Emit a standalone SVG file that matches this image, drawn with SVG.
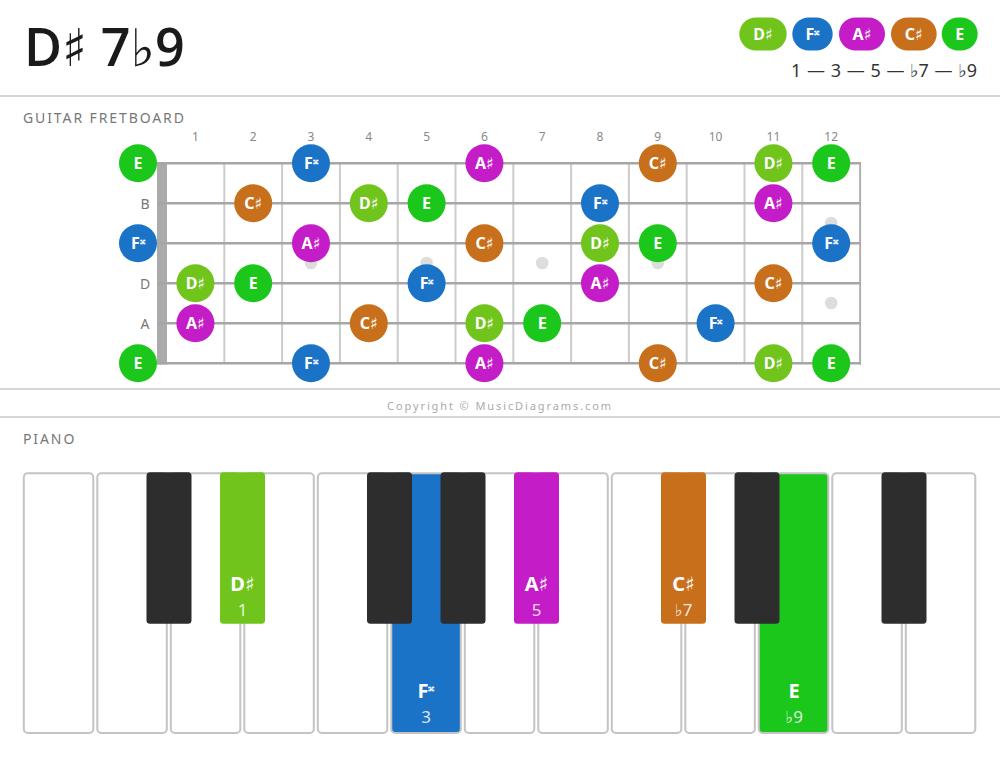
<svg xmlns="http://www.w3.org/2000/svg" width="1000" height="759" viewBox="0 0 1000 759">
<style>
text{font-family:"Noto Sans","DejaVu Sans",sans-serif}
.title{font-family:"Open Sans","Noto Sans","DejaVu Sans",sans-serif;font-size:52px;font-weight:600;fill:#1a1a1a}
.sec{font-size:14px;letter-spacing:1.9px;fill:#777}
.fn{font-size:12px;fill:#888;text-anchor:middle}
.sl{font-size:14px;fill:#777;text-anchor:middle}
.nl{font-size:16px;font-weight:700;fill:#fff;text-anchor:middle}
.sup{font-size:12px}
.div{stroke:#d6d6d6;stroke-width:2}
.str{stroke:#a6a6a6;stroke-width:2.5}
.fret{stroke:#cccccc;stroke-width:2}
.dot{fill:#dddddd}
.wk{fill:#fff;stroke:#c4c4c4;stroke-width:2}
.bk{fill:#2d2d2d}
.pn{font-size:20px;font-weight:700;fill:#fff;text-anchor:middle}
.pi{font-size:17px;fill:#fff;fill-opacity:0.85;text-anchor:middle}
.c1{fill:#70c41c}
.c3{fill:#1b73c8}
.c5{fill:#c41cc6}
.c7{fill:#c86f1b}
.c9{fill:#1cc71c}
</style>
<rect width="1000" height="759" fill="#fff"/>
<g id="header">
<text class="title" x="24" y="66">D♯ 7♭9</text>
<g id="legend">
<rect class="c1" x="739.3" y="17.5" width="47.4" height="33" rx="16.5"/>
<text class="nl" x="763" y="40">D♯</text>
<rect class="c3" x="792.3" y="17.5" width="40.4" height="33" rx="16.5"/>
<text class="nl" x="812.5" y="40">F<tspan class="sup" dy="-5">𝄪</tspan></text>
<rect class="c5" x="839" y="17.5" width="46" height="33" rx="16.5"/>
<text class="nl" x="862" y="40">A♯</text>
<rect class="c7" x="891" y="17.5" width="45.7" height="33" rx="16.5"/>
<text class="nl" x="913.8" y="40">C♯</text>
<rect class="c9" x="941.7" y="17.5" width="36" height="33" rx="16.5"/>
<text class="nl" x="959.7" y="40">E</text>
<text x="977" y="77" font-size="18" word-spacing="1" fill="#333" text-anchor="end">1 — 3 — 5 — ♭7 — ♭9</text>
</g>
</g>
<line class="div" x1="0" y1="96" x2="1000" y2="96"/>
<text class="sec" x="23" y="123">GUITAR FRETBOARD</text>
<g id="fret-numbers">
<text class="fn" x="195.4" y="141">1</text>
<text class="fn" x="253.2" y="141">2</text>
<text class="fn" x="311" y="141">3</text>
<text class="fn" x="368.8" y="141">4</text>
<text class="fn" x="426.6" y="141">5</text>
<text class="fn" x="484.4" y="141">6</text>
<text class="fn" x="542.2" y="141">7</text>
<text class="fn" x="600" y="141">8</text>
<text class="fn" x="657.8" y="141">9</text>
<text class="fn" x="715.6" y="141">10</text>
<text class="fn" x="773.4" y="141">11</text>
<text class="fn" x="831.2" y="141">12</text>
</g>
<g id="fretboard">
<line class="fret" x1="224.3" y1="163" x2="224.3" y2="363"/>
<line class="fret" x1="282.1" y1="163" x2="282.1" y2="363"/>
<line class="fret" x1="339.9" y1="163" x2="339.9" y2="363"/>
<line class="fret" x1="397.7" y1="163" x2="397.7" y2="363"/>
<line class="fret" x1="455.5" y1="163" x2="455.5" y2="363"/>
<line class="fret" x1="513.3" y1="163" x2="513.3" y2="363"/>
<line class="fret" x1="571.1" y1="163" x2="571.1" y2="363"/>
<line class="fret" x1="628.9" y1="163" x2="628.9" y2="363"/>
<line class="fret" x1="686.7" y1="163" x2="686.7" y2="363"/>
<line class="fret" x1="744.5" y1="163" x2="744.5" y2="363"/>
<line class="fret" x1="802.3" y1="163" x2="802.3" y2="363"/>
<line x1="860.1" y1="162" x2="860.1" y2="364.5" stroke="#b0b0b0" stroke-width="2"/>
<rect x="157" y="162" width="10" height="202.5" fill="#aaaaaa"/>
<line class="str" x1="157" y1="163.3" x2="861" y2="163.3"/>
<line class="str" x1="157" y1="203.3" x2="861" y2="203.3"/>
<line class="str" x1="157" y1="243.3" x2="861" y2="243.3"/>
<line class="str" x1="157" y1="283.3" x2="861" y2="283.3"/>
<line class="str" x1="157" y1="323.3" x2="861" y2="323.3"/>
<line class="str" x1="157" y1="363.3" x2="861" y2="363.3"/>
<circle class="dot" cx="311" cy="263" r="6.3"/>
<circle class="dot" cx="426.6" cy="263" r="6.3"/>
<circle class="dot" cx="542.2" cy="263" r="6.3"/>
<circle class="dot" cx="657.8" cy="263" r="6.3"/>
<circle class="dot" cx="831.2" cy="223" r="6.3"/>
<circle class="dot" cx="831.2" cy="303" r="6.3"/>
<text class="sl" x="145" y="208.5">B</text>
<text class="sl" x="145" y="288.5">D</text>
<text class="sl" x="145" y="328.5">A</text>
</g>
<g id="fret-notes">
<g id="s1-0"><circle class="c9" cx="138" cy="163.3" r="19"/><text class="nl" x="138" y="169">E</text></g>
<g id="s1-3"><circle class="c3" cx="311" cy="163.3" r="19"/><text class="nl" x="311" y="169">F<tspan class="sup" dy="-5">𝄪</tspan></text></g>
<g id="s1-6"><circle class="c5" cx="484.4" cy="163.3" r="19"/><text class="nl" x="484.4" y="169">A♯</text></g>
<g id="s1-9"><circle class="c7" cx="657.8" cy="163.3" r="19"/><text class="nl" x="657.8" y="169">C♯</text></g>
<g id="s1-11"><circle class="c1" cx="773.4" cy="163.3" r="19"/><text class="nl" x="773.4" y="169">D♯</text></g>
<g id="s1-12"><circle class="c9" cx="831.2" cy="163.3" r="19"/><text class="nl" x="831.2" y="169">E</text></g>

<g id="s2-2"><circle class="c7" cx="253.2" cy="203.3" r="19"/><text class="nl" x="253.2" y="209">C♯</text></g>
<g id="s2-4"><circle class="c1" cx="368.8" cy="203.3" r="19"/><text class="nl" x="368.8" y="209">D♯</text></g>
<g id="s2-5"><circle class="c9" cx="426.6" cy="203.3" r="19"/><text class="nl" x="426.6" y="209">E</text></g>
<g id="s2-8"><circle class="c3" cx="600" cy="203.3" r="19"/><text class="nl" x="600" y="209">F<tspan class="sup" dy="-5">𝄪</tspan></text></g>
<g id="s2-11"><circle class="c5" cx="773.4" cy="203.3" r="19"/><text class="nl" x="773.4" y="209">A♯</text></g>

<g id="s3-0"><circle class="c3" cx="138" cy="243.3" r="19"/><text class="nl" x="138" y="249">F<tspan class="sup" dy="-5">𝄪</tspan></text></g>
<g id="s3-3"><circle class="c5" cx="311" cy="243.3" r="19"/><text class="nl" x="311" y="249">A♯</text></g>
<g id="s3-6"><circle class="c7" cx="484.4" cy="243.3" r="19"/><text class="nl" x="484.4" y="249">C♯</text></g>
<g id="s3-8"><circle class="c1" cx="600" cy="243.3" r="19"/><text class="nl" x="600" y="249">D♯</text></g>
<g id="s3-9"><circle class="c9" cx="657.8" cy="243.3" r="19"/><text class="nl" x="657.8" y="249">E</text></g>
<g id="s3-12"><circle class="c3" cx="831.2" cy="243.3" r="19"/><text class="nl" x="831.2" y="249">F<tspan class="sup" dy="-5">𝄪</tspan></text></g>

<g id="s4-1"><circle class="c1" cx="195.4" cy="283.3" r="19"/><text class="nl" x="195.4" y="289">D♯</text></g>
<g id="s4-2"><circle class="c9" cx="253.2" cy="283.3" r="19"/><text class="nl" x="253.2" y="289">E</text></g>
<g id="s4-5"><circle class="c3" cx="426.6" cy="283.3" r="19"/><text class="nl" x="426.6" y="289">F<tspan class="sup" dy="-5">𝄪</tspan></text></g>
<g id="s4-8"><circle class="c5" cx="600" cy="283.3" r="19"/><text class="nl" x="600" y="289">A♯</text></g>
<g id="s4-11"><circle class="c7" cx="773.4" cy="283.3" r="19"/><text class="nl" x="773.4" y="289">C♯</text></g>

<g id="s5-1"><circle class="c5" cx="195.4" cy="323.3" r="19"/><text class="nl" x="195.4" y="329">A♯</text></g>
<g id="s5-4"><circle class="c7" cx="368.8" cy="323.3" r="19"/><text class="nl" x="368.8" y="329">C♯</text></g>
<g id="s5-6"><circle class="c1" cx="484.4" cy="323.3" r="19"/><text class="nl" x="484.4" y="329">D♯</text></g>
<g id="s5-7"><circle class="c9" cx="542.2" cy="323.3" r="19"/><text class="nl" x="542.2" y="329">E</text></g>
<g id="s5-10"><circle class="c3" cx="715.6" cy="323.3" r="19"/><text class="nl" x="715.6" y="329">F<tspan class="sup" dy="-5">𝄪</tspan></text></g>

<g id="s6-0"><circle class="c9" cx="138" cy="363.3" r="19"/><text class="nl" x="138" y="369">E</text></g>
<g id="s6-3"><circle class="c3" cx="311" cy="363.3" r="19"/><text class="nl" x="311" y="369">F<tspan class="sup" dy="-5">𝄪</tspan></text></g>
<g id="s6-6"><circle class="c5" cx="484.4" cy="363.3" r="19"/><text class="nl" x="484.4" y="369">A♯</text></g>
<g id="s6-9"><circle class="c7" cx="657.8" cy="363.3" r="19"/><text class="nl" x="657.8" y="369">C♯</text></g>
<g id="s6-11"><circle class="c1" cx="773.4" cy="363.3" r="19"/><text class="nl" x="773.4" y="369">D♯</text></g>
<g id="s6-12"><circle class="c9" cx="831.2" cy="363.3" r="19"/><text class="nl" x="831.2" y="369">E</text></g>
</g>
<line class="div" x1="0" y1="389" x2="1000" y2="389"/>
<text x="500" y="410" font-size="11" letter-spacing="1.9" fill="#aaaaaa" text-anchor="middle">Copyright © MusicDiagrams.com</text>
<line class="div" x1="0" y1="417" x2="1000" y2="417"/>
<text class="sec" x="23" y="444">PIANO</text>
<g id="piano">
<rect class="wk" x="23.8" y="473.3" width="69.5" height="259.7" rx="4"/>
<rect class="wk" x="97.3" y="473.3" width="69.5" height="259.7" rx="4"/>
<rect class="wk" x="170.8" y="473.3" width="69.5" height="259.7" rx="4"/>
<rect class="wk" x="244.3" y="473.3" width="69.5" height="259.7" rx="4"/>
<rect class="wk" x="317.8" y="473.3" width="69.5" height="259.7" rx="4"/>
<rect class="wk c3" x="391.3" y="473.3" width="69.5" height="259.7" rx="4"/>
<rect class="wk" x="464.8" y="473.3" width="69.5" height="259.7" rx="4"/>
<rect class="wk" x="538.3" y="473.3" width="69.5" height="259.7" rx="4"/>
<rect class="wk" x="611.8" y="473.3" width="69.5" height="259.7" rx="4"/>
<rect class="wk" x="685.3" y="473.3" width="69.5" height="259.7" rx="4"/>
<rect class="wk c9" x="758.8" y="473.3" width="69.5" height="259.7" rx="4"/>
<rect class="wk" x="832.3" y="473.3" width="69.5" height="259.7" rx="4"/>
<rect class="wk" x="905.8" y="473.3" width="69.5" height="259.7" rx="4"/>
<rect class="bk" x="146.5" y="472.3" width="45" height="151.5" rx="3.5"/>
<rect class="c1" x="220" y="472.3" width="45" height="151.5" rx="3.5"/>
<rect class="bk" x="367" y="472.3" width="45" height="151.5" rx="3.5"/>
<rect class="bk" x="440.5" y="472.3" width="45" height="151.5" rx="3.5"/>
<rect class="c5" x="514" y="472.3" width="45" height="151.5" rx="3.5"/>
<rect class="c7" x="661" y="472.3" width="45" height="151.5" rx="3.5"/>
<rect class="bk" x="734.5" y="472.3" width="45" height="151.5" rx="3.5"/>
<rect class="bk" x="881.5" y="472.3" width="45" height="151.5" rx="3.5"/>
<g id="key-Ds"><text class="pn" x="242.5" y="591">D♯</text><text class="pi" x="242.5" y="616">1</text></g>
<g id="key-Fx"><text class="pn" x="426" y="698">F<tspan font-size="14" dy="-7">𝄪</tspan></text><text class="pi" x="426" y="723">3</text></g>
<g id="key-As"><text class="pn" x="536.5" y="591">A♯</text><text class="pi" x="536.5" y="616">5</text></g>
<g id="key-Cs"><text class="pn" x="683.5" y="591">C♯</text><text class="pi" x="683.5" y="616">♭7</text></g>
<g id="key-E"><text class="pn" x="794" y="698">E</text><text class="pi" x="794" y="723">♭9</text></g>
</g>
</svg>
